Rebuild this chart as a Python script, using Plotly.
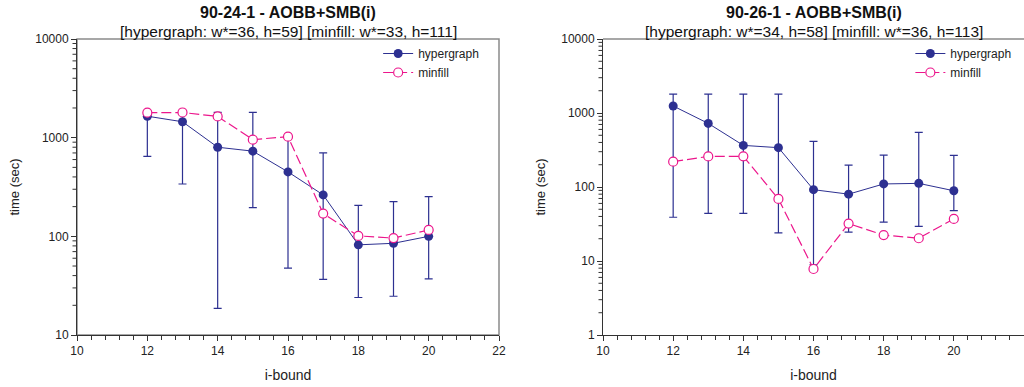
import plotly.graph_objects as go

# ---------------- data ----------------
i_bound = [12, 13, 14, 15, 16, 17, 18, 19, 20]

# 90-24-1
left_hyper = [1650, 1450, 800, 730, 450, 263, 82, 85, 100]
left_hyper_hi = [1800, 1800, 1805, 1805, 1000, 700, 206, 225, 253]
left_hyper_lo = [646, 339, 18.6, 195, 47.6, 36.6, 24, 24.7, 37]
left_minfill = [1790, 1800, 1640, 955, 1023, 170, 101, 96, 116]

# 90-26-1
right_hyper = [1244, 723, 365, 340, 92, 80, 110, 112, 89]
right_hyper_hi = [1800, 1800, 1800, 1800, 414, 198, 270, 547, 268]
right_hyper_lo = [39, 44, 44, 24, 8.9, 24.5, 33.5, 29.4, 48]
right_minfill = [220, 259, 260, 69, 7.8, 32, 22.4, 20.3, 37]

left_title = "90-24-1 - AOBB+SMB(i)"
left_sub = "[hypergraph: w*=36, h=59] [minfill: w*=33, h=111]"
right_title = "90-26-1 - AOBB+SMB(i)"
right_sub = "[hypergraph: w*=34, h=58] [minfill: w*=36, h=113]"

x_ticks = [10, 12, 14, 16, 18, 20, 22]
left_y_ticks = [10, 100, 1000, 10000]
right_y_ticks = [1, 10, 100, 1000, 10000]

# ---------------- style ----------------
NAVY = "#2d3091"
MAG = "#ec168c"
FONT = "Liberation Sans, Arial, sans-serif"
AXC = "#333333"

fig = go.Figure()

def add_pair(xa, ya, hyper, hi, lo, minf, legend):
    fig.add_trace(go.Scatter(
        x=i_bound, y=hyper, name="hypergraph", mode="lines+markers",
        xaxis=xa, yaxis=ya, legend=legend,
        line=dict(color=NAVY, width=1),
        marker=dict(color=NAVY, size=9, symbol="circle"),
        error_y=dict(type="data", symmetric=False,
                     array=[h - v for h, v in zip(hi, hyper)],
                     arrayminus=[v - l for v, l in zip(hyper, lo)],
                     color=NAVY, thickness=1.2, width=4),
    ))
    fig.add_trace(go.Scatter(
        x=i_bound, y=minf, name="minfill", mode="lines+markers",
        xaxis=xa, yaxis=ya, legend=legend,
        line=dict(color=MAG, width=1.2, dash="10px,4px"),
        marker=dict(color="white", size=9, symbol="circle",
                    line=dict(color=MAG, width=1.2)),
    ))

add_pair("x", "y", left_hyper, left_hyper_hi, left_hyper_lo, left_minfill, "legend")
add_pair("x2", "y2", right_hyper, right_hyper_hi, right_hyper_lo, right_minfill, "legend2")

W, H = 1024, 387
ML, MR, MT, MB = 77, 0, 39, 52
pw = W - ML - MR
dom_left = [0, (499 - ML) / pw]
dom_right = [(603 - ML) / pw, 1.0]

xcommon = dict(range=[10, 22], tickvals=x_ticks, ticktext=[str(v) for v in x_ticks],
               ticks="outside", ticklen=5, tickwidth=1, tickcolor=AXC,
               minor=dict(ticks="outside", tickmode="linear", dtick=0.4, tick0=10,
                          ticklen=4, tickcolor=AXC, tickwidth=1),
               showline=True, linecolor=AXC, linewidth=1, showgrid=False, zeroline=False,
               tickfont=dict(family=FONT, size=12, color="#222"),
               title=dict(text="i-bound", font=dict(family=FONT, size=14, color="#222"), standoff=12),
               automargin=False)

def ycommon(rng, ticks):
    return dict(type="log", range=rng, tickvals=ticks, ticktext=[str(v) for v in ticks],
                ticks="outside", ticklen=5, tickwidth=1, tickcolor=AXC,
                showline=True, linecolor=AXC, linewidth=1, showgrid=False, zeroline=False,
                tickfont=dict(family=FONT, size=12, color="#222"),
                title=dict(text="time (sec)", font=dict(family=FONT, size=13, color="#222"), standoff=12),
                automargin=False, domain=[0, 1])

leg = dict(yanchor="top", xanchor="left", xref="paper", yref="paper",
           bgcolor="rgba(0,0,0,0)", font=dict(family=FONT, size=12, color="#222"),
           itemwidth=30, tracegroupgap=0)

fig.update_layout(
    width=W, height=H, autosize=False,
    margin=dict(l=ML, r=MR, t=MT, b=MB, pad=0),
    paper_bgcolor="white", plot_bgcolor="white",
    font=dict(family=FONT, color="#222"),
    xaxis=dict(domain=dom_left, anchor="y", **xcommon),
    yaxis=dict(anchor="x", **ycommon([1, 4], left_y_ticks)),
    xaxis2=dict(domain=dom_right, anchor="y2", **xcommon),
    yaxis2=dict(anchor="x2", **ycommon([0, 4], right_y_ticks)),
    legend=dict(x=0.318, y=1.0, **leg),
    legend2=dict(x=0.880, y=1.0, **leg),
    showlegend=True,
)

# minor log ticks (2..9 in each decade) drawn on the y scale (data values)
for xr, yr, ticks, dom in (("x domain", "y", left_y_ticks, dom_left),
                           ("x2 domain", "y2", right_y_ticks, dom_right)):
    plot_w = (dom[1] - dom[0]) * pw
    for t in ticks[:-1]:
        for k in range(2, 10):
            v = t * k
            fig.add_shape(type="line", xref=xr, yref=yr, x0=-4.5 / plot_w, x1=0,
                          y0=v, y1=v, line=dict(color=AXC, width=1), layer="above")

# frame: left plot top + right border, right plot top border only
fig.add_shape(type="rect", xref="x domain", yref="y domain", x0=0, x1=1, y0=0, y1=1,
              line=dict(color="#8a8a8a", width=1.5), layer="below")
fig.add_shape(type="line", xref="x2 domain", yref="y2 domain", x0=0, x1=1, y0=1, y1=1,
              line=dict(color="#8a8a8a", width=1.5), layer="below")

# titles
for t, s, dom in ((left_title, left_sub, dom_left), (right_title, right_sub, dom_right)):
    cx = (dom[0] + dom[1]) / 2
    fig.add_annotation(text="<b>" + t + "</b>", xref="paper", yref="paper",
                       x=cx, y=1, yshift=MT - 12.5, xanchor="center", yanchor="middle",
                       showarrow=False, font=dict(family=FONT, size=16, color="#111"))
    fig.add_annotation(text=s, xref="paper", yref="paper",
                       x=cx, y=1, yshift=MT - 31, xanchor="center", yanchor="middle",
                       showarrow=False, font=dict(family=FONT, size=15.5, color="#111"))

fig.write_html("out.html")
